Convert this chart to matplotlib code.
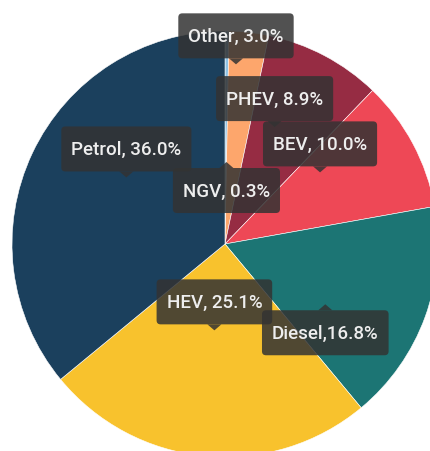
import numpy as np
import matplotlib.pyplot as plt
from matplotlib.patches import Polygon, FancyBboxPatch

# Fuel type share
labels = ['NGV', 'Other', 'PHEV', 'BEV', 'Diesel', 'HEV', 'Petrol']
shares = [0.3, 3.0, 8.9, 10.0, 16.8, 25.1, 36.0]
tooltip_text = ['NGV, 0.3%', 'Other, 3.0%', 'PHEV, 8.9%', 'BEV, 10.0%',
                'Diesel,16.8%', 'HEV, 25.1%', 'Petrol, 36.0%']
colors = ['#8ec3e6', '#fda66c', '#962c43', '#ee4856', '#1c7574', '#f8c22d', '#1b405d']

# tooltip anchors: (degrees clockwise from 12 o'clock, distance in px, box above/below)
anchors = [(1, 82, 'below'), (3.5, 180, 'above'), (23, 127, 'above'), (53, 119, 'above'),
           (121, 117, 'below'), (187, 87, 'above'), (304, 119, 'above')]

W, H = 431, 452
cx, cy, r = 225, H - 245, 213

plt.rcParams['font.family'] = ['Roboto', 'DejaVu Sans']

fig = plt.figure(figsize=(W / 100, H / 100), dpi=100)
ax = fig.add_axes([0, 0, 1, 1])
ax.pie(shares, colors=colors, startangle=90, counterclock=False,
       center=(cx, cy), radius=r, normalize=True,
       wedgeprops=dict(edgecolor='white', linewidth=0.4))
ax.set_xlim(0, W)
ax.set_ylim(0, H)
ax.set_aspect('equal')
ax.axis('off')

renderer = fig.canvas.get_renderer()
box_h = 45
for txt, (ang, dist, side) in zip(tooltip_text, anchors):
    a = np.radians(ang)
    tx, ty = cx + dist * np.sin(a), cy + dist * np.cos(a)
    if side == 'above':
        tri = [(tx - 7, ty + 6), (tx + 7, ty + 6), (tx, ty)]
        yc = ty + 6 + box_h / 2
    else:
        tri = [(tx - 7, ty - 6), (tx + 7, ty - 6), (tx, ty)]
        yc = ty - 6 - box_h / 2
    t = ax.text(tx, yc, txt, ha='center', va='center', fontsize=13.5,
                fontweight='medium', color='#eeeeee', zorder=6)
    tw = t.get_window_extent(renderer).width
    bw = tw + 20
    ax.add_patch(FancyBboxPatch((tx - bw / 2, yc - box_h / 2), bw, box_h,
                                boxstyle='round,pad=0,rounding_size=4',
                                facecolor='#333333', alpha=0.85, edgecolor='none',
                                zorder=5))
    ax.add_patch(Polygon(tri, closed=True, facecolor='#333333', alpha=0.85,
                         edgecolor='none', zorder=5))

fig.savefig('out.png', dpi=100)
